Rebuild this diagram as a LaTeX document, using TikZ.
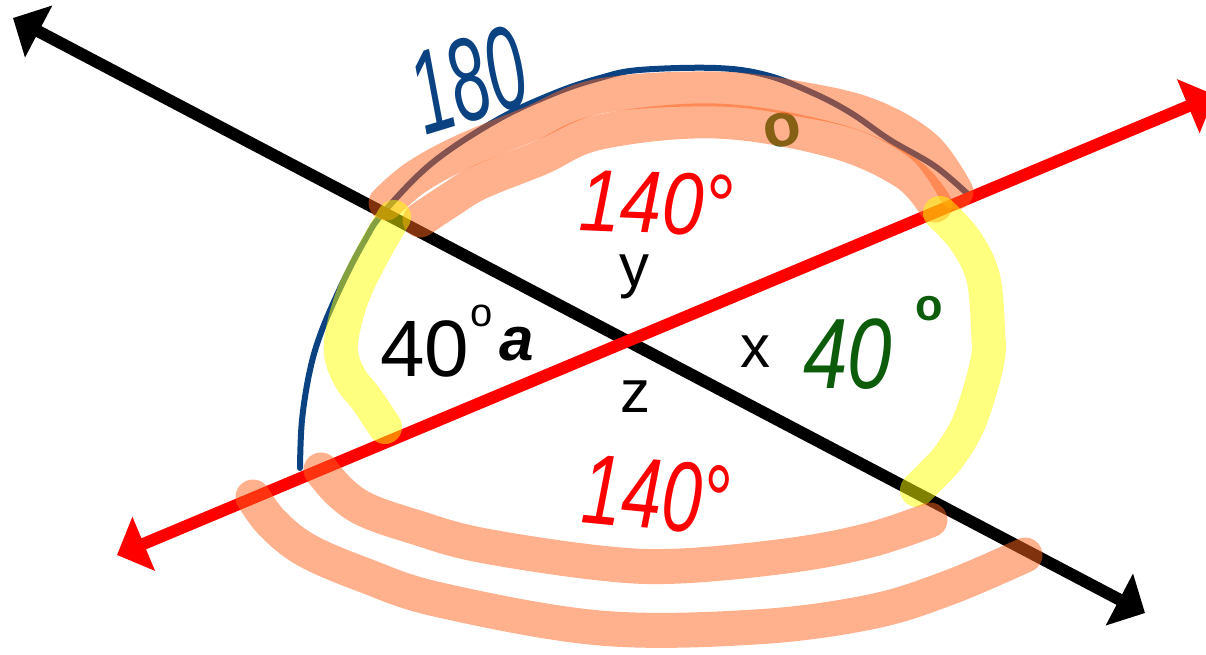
\documentclass[tikz,border=0pt]{standalone}
\usepackage{fontspec}
\setmainfont{Liberation Sans}
\usetikzlibrary{arrows.meta}
\definecolor{inkblue}{RGB}{10,66,130}
\definecolor{inkgreen}{RGB}{12,92,12}
\definecolor{markorange}{RGB}{255,100,30}
\definecolor{markyellow}{RGB}{255,255,0}

\begin{document}
\begin{tikzpicture}[x=1pt,y=-1pt,
  axis/.style={line width=12pt, {Triangle[length=29pt,width=57pt]}-{Triangle[length=29pt,width=57pt]}},
  pen/.style={line width=6pt, line cap=round, line join=round},
  hlorange/.style={draw=markorange, draw opacity=0.5, line width=35pt, line cap=round, line join=round},
  hlyellow/.style={draw=markyellow, draw opacity=0.5, line width=34pt, line cap=round, line join=round},
  typed/.style={inner sep=0pt, anchor=base},
  hand/.style={inner sep=0pt, anchor=base west}]
\useasboundingbox (0,0) rectangle (1206,654);

% the two lines
\coordinate (blackA) at (13,18);
\coordinate (blackB) at (1145,613);
\coordinate (redA) at (117,555);
\coordinate (redB) at (1215,95);

% blue 180 arc
\draw[pen, inkblue] plot[smooth, tension=0.6] coordinates {(300,468) (302,420) (310,370) (322,330) (344,280) (365,240) (383,213) (432,163) (497,120) (555,93) (600,78) (639,70) (716,68) (766,75) (813,93) (851,113) (890,140) (936,167) (973,199)};

\draw[axis, black] (blackA) -- (blackB);
\draw[axis, red] (redA) -- (redB);

% typed labels
\node[typed, font=\fontsize{80}{90}\selectfont, anchor=base west] (forty) at (380,376) {40};
\node[typed, font=\fontsize{40}{48}\selectfont, anchor=base west] (fortydeg) at (470,326) {o};
\node[hand, font=\fontsize{62}{70}\selectfont\bfseries\itshape] (anglea) at (499,360) {a};
\node[typed, font=\fontsize{60}{70}\selectfont] (angley) at (634,286) {y};
\node[typed, font=\fontsize{60}{70}\selectfont] (anglex) at (755,367) {x};
\node[typed, font=\fontsize{60}{70}\selectfont] (anglez) at (635,412) {z};

% handwritten labels
\node[hand, red, font=\fontsize{88}{96}\selectfont\itshape, xscale=0.85, rotate=-2] (toplabel) at (578,230) {140°};
\node[hand, red, font=\fontsize{100}{110}\selectfont\itshape, xscale=0.72, rotate=-4] (lowlabel) at (580,522) {140°};
\node[hand, inkgreen, font=\fontsize{100}{110}\selectfont\itshape, xscale=0.8] (greenforty) at (803,388) {40};
\node[hand, inkgreen, font=\fontsize{45}{50}\selectfont\bfseries] (greendeg) at (915,320) {o};
\node[hand, inkgreen, font=\fontsize{62}{70}\selectfont\bfseries, rotate=10] (greeno) at (766,150) {o};
\node[inner sep=0pt, inkblue, font=\fontsize{118}{126}\selectfont\itshape, rotate=17, xscale=0.58] (sum) at (468,80) {180};

% highlighter strokes
\draw[hlorange] plot[smooth, tension=0.6] coordinates {(386,203) (415,178) (460,153) (530,124) (600,96) (716,89) (800,99) (870,116) (925,148) (956,192)};
\draw[hlorange] plot[smooth, tension=0.6] coordinates {(420,220) (450,200) (480,182) (540,158) (600,132) (716,121) (832,140) (905,172) (935,205)};
\draw[hlyellow] plot[smooth, tension=0.6] coordinates {(394,217) (375,250) (355,290) (344,325) (341,353) (350,378) (367,400) (385,427)};
\draw[hlyellow] plot[smooth, tension=0.6] coordinates {(940,213) (965,240) (983,277) (988,330) (987,363) (970,420) (950,455) (932,475) (917,490)};
\draw[hlorange] plot[smooth, tension=0.6] coordinates {(321,470) (340,492) (366,510) (415,527) (480,545) (600,563) (680,566) (793,555) (870,540) (930,520)};
\draw[hlorange] plot[smooth, tension=0.6] coordinates {(253,497) (272,523) (306,550) (364,575) (440,600) (600,628) (755,627) (870,612) (948,588) (1025,555)};
\end{tikzpicture}
\end{document}
